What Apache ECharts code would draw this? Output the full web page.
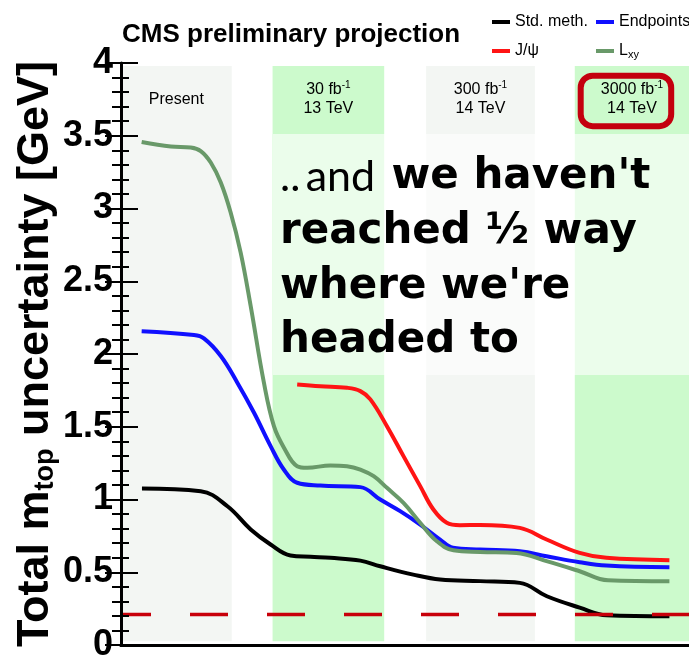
<!DOCTYPE html>
<html><head><meta charset="utf-8">
<script src="https://cdn.jsdelivr.net/npm/echarts@6/dist/echarts.min.js"></script>
<style>html,body{margin:0;padding:0;background:#fff}#c{width:689px;height:658px}</style>
</head><body><div id="c"></div>
<script>
// ---- data (x: position along the projection axis, one unit per scenario slot) ----
const stdX = [0.138,0.525,0.703,0.854,0.985,1.116,1.248,1.379,1.576,1.707,1.924,2.101,2.364,2.626,2.804,3.020,3.198,3.611];
const stdY = [1.076,1.057,0.952,0.794,0.691,0.615,0.606,0.599,0.580,0.541,0.484,0.450,0.439,0.427,0.335,0.257,0.204,0.197];

const endX = [0.136,0.481,0.546,0.657,0.766,0.876,0.985,1.072,1.160,1.313,1.576,1.707,1.838,1.970,2.101,2.186,2.364,2.626,2.802,3.020,3.196,3.611];
const endY = [2.157,2.130,2.107,1.986,1.803,1.596,1.367,1.206,1.115,1.096,1.085,1.000,0.920,0.828,0.725,0.668,0.656,0.644,0.610,0.569,0.546,0.534];

const jpsiX = [1.160,1.313,1.488,1.576,1.642,1.751,1.860,1.970,2.057,2.145,2.232,2.364,2.626,2.802,3.020,3.196,3.611];
const jpsiY = [1.791,1.779,1.768,1.745,1.688,1.504,1.298,1.092,0.931,0.840,0.823,0.825,0.805,0.725,0.633,0.599,0.583];

const lxyX = [0.136,0.328,0.459,0.525,0.591,0.657,0.722,0.788,0.854,0.941,1.007,1.072,1.160,1.226,1.379,1.488,1.576,1.664,1.751,1.860,1.970,2.080,2.189,2.364,2.604,2.802,3.020,3.207,3.611];
const lxyY = [3.457,3.426,3.419,3.395,3.316,3.178,2.972,2.697,2.329,1.803,1.504,1.358,1.229,1.218,1.234,1.229,1.206,1.160,1.080,0.977,0.840,0.713,0.651,0.640,0.633,0.576,0.507,0.445,0.438];

const targetY = 0.209;

const bandStart = [0, 0.998, 2.009, 2.988];
const bandEnd   = [0.729, 1.733, 2.725, 3.74];
const bandLumi  = ['', '30', '300', '3000'];
const bandEnergy= ['', '13', '14', '14'];
const bandGreen = [false, true, false, true];

const yTicks = [0, 0.5, 1, 1.5, 2, 2.5, 3, 3.5, 4];

// ---- build ----
const zip = (xs, ys) => xs.map((x, i) => [x, ys[i]]);
const FONT = 'Liberation Sans';

const bandData = bandStart.map((s, i) => {
  const lbl = i === 0 ? '{t|Present}' : `{t|${bandLumi[i]} fb}{sup|-1}\n{t|${bandEnergy[i]} TeV}`;
  return [
    { xAxis: s, yAxis: 0.025,
      itemStyle: { color: bandGreen[i] ? '#ccfacc' : '#f3f6f3' },
      label: { formatter: lbl, distance: i === 0 ? 24 : 14.5 } },
    { xAxis: bandEnd[i], yAxis: 3.98 }
  ];
});

const chart = echarts.init(document.getElementById('c'), null, { renderer: 'canvas' });

const lineSeries = (name, xs, ys, color) => ({
  name, type: 'line', data: zip(xs, ys), showSymbol: false, symbol: 'none',
  smooth: 0.4,
  lineStyle: { color, width: 4 }, itemStyle: { color }, z: 5
});

const yAxisBase = {
  type: 'value', min: yTicks[0], max: yTicks[yTicks.length - 1], interval: 0.5, z: 10,
  splitLine: { show: false },
  minorTick: { show: true, splitNumber: 5, length: 8, lineStyle: { color: '#000', width: 2 } },
  axisTick: { show: true, inside: true, length: 17, lineStyle: { color: '#000', width: 2 } }
};

chart.setOption({
  animation: false,
  backgroundColor: '#fff',
  title: {
    text: 'CMS preliminary projection', left: 117, top: 17,
    textStyle: { fontFamily: FONT, fontWeight: 'bold', fontSize: 26, color: '#000' }
  },
  legend: [
    { data: ['Std. meth.', 'J/ψ'], orient: 'vertical', left: 487, top: 8,
      icon: 'rect', itemWidth: 18, itemHeight: 4, itemGap: 11,
      textStyle: { fontFamily: FONT, fontSize: 16, color: '#000', lineHeight: 18 } },
    { data: ['Endpoints', 'Lxy'], orient: 'vertical', left: 591, top: 8,
      icon: 'rect', itemWidth: 18, itemHeight: 4, itemGap: 11,
      formatter: n => n === 'Lxy' ? '{a|L}{s|xy}' : n,
      textStyle: { fontFamily: FONT, fontSize: 16, color: '#000', lineHeight: 18,
        rich: { a: { fontFamily: FONT, fontSize: 16, color: '#000', lineHeight: 18 },
                s: { fontFamily: FONT, fontSize: 11, color: '#000', lineHeight: 8, verticalAlign: 'bottom' } } } }
  ],
  grid: { left: 121, right: 0, top: 63, bottom: 13, containLabel: false, outerBoundsMode: 'none' },
  xAxis: [
    { type: 'value', min: 0, max: 3.74, z: 10, axisLine: { lineStyle: { color: '#000', width: 3 } },
      axisTick: { show: false }, axisLabel: { show: false }, splitLine: { show: false } },
    { type: 'value', position: 'top', min: 0, max: 3.74, z: 10, axisLine: { lineStyle: { color: '#000', width: 3 } },
      axisTick: { show: false }, axisLabel: { show: false }, splitLine: { show: false } }
  ],
  yAxis: [
    Object.assign({}, yAxisBase, {
      position: 'left',
      axisLine: { show: true, lineStyle: { color: '#000', width: 3 } },
      axisLabel: { show: true, margin: 8, fontFamily: FONT, fontWeight: 'bold', fontSize: 36, color: '#000',
        formatter: v => String(v) },
      name: '{a|Total m}{s|top}{a| uncertainty [GeV]}',
      nameLocation: 'middle', nameGap: 62, nameRotate: 90, nameMoveOverlap: false,
      nameTextStyle: { rich: {
        a: { fontFamily: FONT, fontWeight: 'bold', fontSize: 45, color: '#000', lineHeight: 46, verticalAlign: 'middle' },
        s: { fontFamily: FONT, fontWeight: 'bold', fontSize: 27, color: '#000', lineHeight: 12, verticalAlign: 'bottom' }
      } }
    }),
    Object.assign({}, yAxisBase, {
      position: 'right',
      axisLine: { show: false },
      axisTick: { show: true, inside: true, length: 16, lineStyle: { color: '#000', width: 2 } },
      minorTick: { show: true, splitNumber: 5, length: 9, lineStyle: { color: '#000', width: 2 } },
      axisLabel: { show: false }
    })
  ],
  series: [
    { name: 'bands', type: 'line', data: [], silent: true, z: 1,
      markArea: { silent: true, data: bandData,
        label: { show: true, position: 'insideTop', color: '#000',
          rich: { t: { fontFamily: FONT, fontSize: 16, lineHeight: 19, color: '#000' },
                  sup: { fontFamily: FONT, fontSize: 10, lineHeight: 12, verticalAlign: 'top', color: '#000' } } } } },
    lineSeries('Std. meth.', stdX, stdY, '#000000'),
    lineSeries('Endpoints', endX, endY, '#1010ff'),
    lineSeries('J/ψ', jpsiX, jpsiY, '#ff1414'),
    lineSeries('Lxy', lxyX, lxyY, '#699969'),
    { name: 'target', type: 'line', data: [[0, targetY], [3.74, targetY]], showSymbol: false, symbol: 'none',
      lineStyle: { color: '#c8000a', width: 3.5, type: [38, 39], dashOffset: 8 }, z: 6, silent: true }
  ],
  graphic: [
    { type: 'rect', shape: { x: 580.7, y: 75.7, width: 90.5, height: 50.5, r: 12 },
      style: { fill: 'none', stroke: '#c4000e', lineWidth: 6 }, z: 50 },
    { type: 'rect', shape: { x: 273, y: 134, width: 420, height: 241 },
      style: { fill: 'rgba(255,255,255,0.6)' }, z: 100 },
    { type: 'text', x: 280, y: 177, z: 101,
      style: { text: '{n|..\u2009and\u2009 }{b|we haven\'t}', verticalAlign: 'middle', fill: '#000',
        rich: { n: { fontFamily: 'Lato', fontSize: 43, fontWeight: 400, fill: '#000' },
                b: { fontFamily: 'DejaVu Sans', fontSize: 42, fontWeight: 'bold', fill: '#000' } } } },
    { type: 'text', x: 280, y: 232, z: 101,
      style: { text: 'reached ½ way', verticalAlign: 'middle', fill: '#000', font: 'bold 42px "DejaVu Sans"' } },
    { type: 'text', x: 280, y: 287, z: 101,
      style: { text: 'where we\'re', verticalAlign: 'middle', fill: '#000', font: 'bold 42px "DejaVu Sans"' } },
    { type: 'text', x: 280, y: 341, z: 101,
      style: { text: 'headed to', verticalAlign: 'middle', fill: '#000', font: 'bold 42px "DejaVu Sans"' } }
  ]
});
</script>
</body></html>
